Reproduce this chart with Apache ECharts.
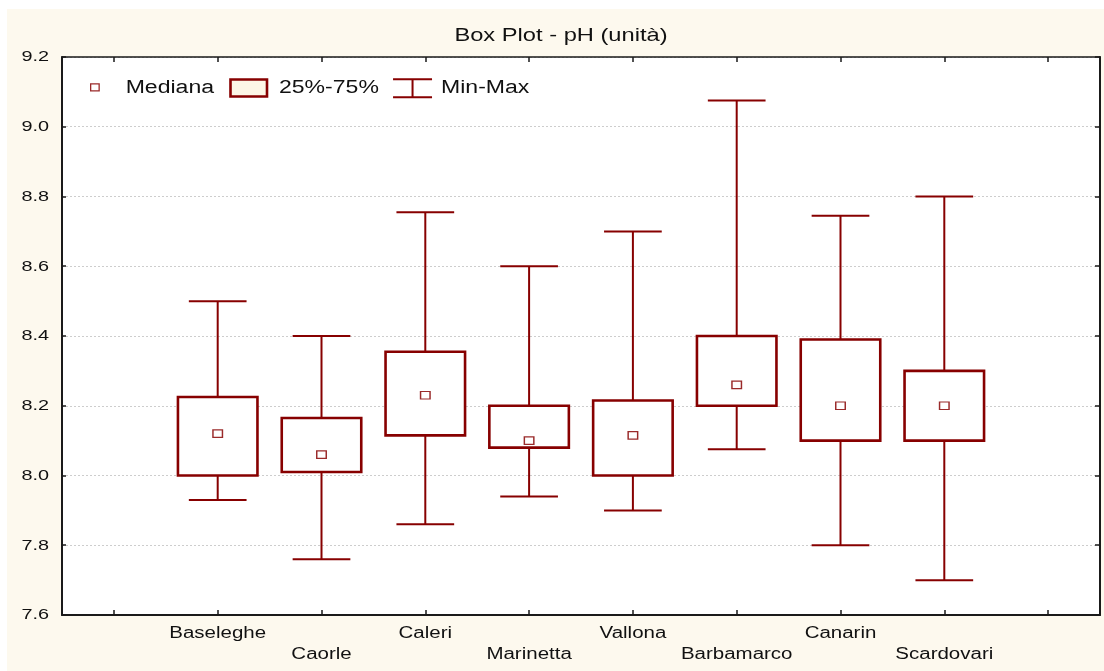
<!DOCTYPE html>
<html>
<head>
<meta charset="utf-8">
<title>Box Plot - pH (unità)</title>
<script src="https://cdn.jsdelivr.net/npm/echarts@6/dist/echarts.min.js"></script>
<style>
  html, body { margin: 0; padding: 0; background: #ffffff; }
  #page { position: relative; width: 1104px; height: 671px; overflow: hidden; background: #ffffff; }
  #panel { position: absolute; left: 7px; top: 9px; width: 1097px; height: 662px; background: #fdf9ee; }
  #chart { position: absolute; left: 0; top: 0; width: 1104px; height: 671px; }
</style>
</head>
<body>
<div id="page">
  <div id="panel"></div>
  <div id="chart"></div>
</div>
<script>
// Sampling stations and pH statistics (units)
const stations = ['Baseleghe', 'Caorle', 'Caleri', 'Marinetta', 'Vallona', 'Barbamarco', 'Canarin', 'Scardovari'];
const phMin    = [7.93,  7.76,  7.86,  7.94, 7.90,  8.075, 7.80,  7.70];
const phQ1     = [8.00,  8.01,  8.115, 8.08, 8.00,  8.20,  8.10,  8.10];
const phMedian = [8.12,  8.06,  8.23,  8.10, 8.115, 8.26,  8.20,  8.20];
const phQ3     = [8.225, 8.165, 8.355, 8.20, 8.215, 8.40,  8.39,  8.30];
const phMax    = [8.50,  8.40,  8.755, 8.60, 8.70,  9.075, 8.745, 8.80];

// Value axis range and tick step
const yMin = 7.6;
const yMax = 9.2;
const yStep = 0.2;

// Empty slots on both ends of the category axis
const categories = [''].concat(stations, ['']);

const MAROON = '#870000';
const INK = '#1a1a1a';
const FONT = '"Liberation Sans", Arial, sans-serif';
const BOX_FRAC = 0.766;   // box width relative to the category band
const CAP_FRAC = 0.556;   // whisker cap width relative to the category band
const TEXT_STRETCH = 1.28;

const boxData = stations.map(function (s, i) {
  return [i + 1, phMin[i], phQ1[i], phMedian[i], phQ3[i], phMax[i]];
});
const medianData = stations.map(function (s, i) {
  return [i + 1, phMedian[i]];
});

function renderWhisker(params, api) {
  const x = api.value(0);
  const cap = api.size([1, 0])[0] * CAP_FRAC;
  const pMin = api.coord([x, api.value(1)]);
  const pQ1 = api.coord([x, api.value(2)]);
  const pQ3 = api.coord([x, api.value(4)]);
  const pMax = api.coord([x, api.value(5)]);
  const style = { stroke: MAROON, lineWidth: 2 };
  function seg(x1, y1, x2, y2) {
    return { type: 'line', shape: { x1: x1, y1: y1, x2: x2, y2: y2 }, style: style };
  }
  return {
    type: 'group',
    children: [
      seg(pMin[0], pMin[1], pQ1[0], pQ1[1]),
      seg(pQ3[0], pQ3[1], pMax[0], pMax[1]),
      seg(pMin[0] - cap / 2, pMin[1], pMin[0] + cap / 2, pMin[1]),
      seg(pMax[0] - cap / 2, pMax[1], pMax[0] + cap / 2, pMax[1])
    ]
  };
}

function renderBox(params, api) {
  const x = api.value(0);
  const w = api.size([1, 0])[0] * BOX_FRAC;
  const top = api.coord([x, api.value(4)]);
  const bottom = api.coord([x, api.value(2)]);
  return {
    type: 'rect',
    shape: { x: top[0] - w / 2, y: top[1], width: w, height: bottom[1] - top[1] },
    style: { fill: '#ffffff', stroke: MAROON, lineWidth: 2.6 }
  };
}

// Legend glyphs share a 44x20 frame (corner moves keep the frame size)
const FRAME = 'M0,0 M44,20 ';
const iconMedian = 'path://' + FRAME + 'M14,5.5 L22.5,5.5 L22.5,12.5 L14,12.5 Z';
const iconBox = 'path://' + FRAME + 'M0.5,1.2 L37,1.2 L37,18.2 L0.5,18.2 Z';
const iconWhisker = 'path://' + FRAME + 'M1,1 L40,1 M20.5,1 L20.5,19 M1,19 L40,19';

const chart = echarts.init(document.getElementById('chart'), null, { renderer: 'canvas' });

const option = {
  animation: false,
  backgroundColor: 'transparent',
  title: {
    text: 'Box Plot - pH (unità)',
    left: 561,
    top: 26,
    padding: 0,
    textAlign: 'center',
    textStyle: { fontFamily: FONT, fontSize: 18.5, fontWeight: 'normal', color: '#111111' }
  },
  legend: {
    left: 76,
    top: 77,
    padding: 0,
    itemWidth: 44,
    itemHeight: 20,
    itemGap: 34,
    selectedMode: false,
    textStyle: { fontFamily: FONT, fontSize: 18, color: '#111111' },
    data: [
      { name: 'Mediana', icon: iconMedian,
        itemStyle: { color: '#ffffff', borderColor: '#9a2a2a', borderWidth: 1.3 } },
      { name: '25%-75%', icon: iconBox,
        itemStyle: { color: '#fdf6e6', borderColor: MAROON, borderWidth: 2.6 } },
      { name: 'Min-Max', icon: iconWhisker,
        itemStyle: { color: 'transparent', borderColor: MAROON, borderWidth: 2 } }
    ]
  },
  grid: {
    left: 62, top: 57, right: 4, bottom: 56,
    show: true, backgroundColor: '#ffffff', borderWidth: 0,
    containLabel: false, outerBoundsMode: 'none'
  },
  xAxis: [
    {
      type: 'category',
      data: categories,
      boundaryGap: true,
      position: 'bottom',
      axisLine: { show: true, lineStyle: { color: INK, width: 2 } },
      axisTick: { show: true, inside: true, length: 5, alignWithLabel: true, interval: 0,
                  lineStyle: { color: INK, width: 1.5 } },
      axisLabel: {
        interval: 0, margin: 8.5, color: '#111111', fontFamily: FONT, fontSize: 16, lineHeight: 21,
        formatter: function (value, index) { return index % 2 === 0 ? '\n' + value : value; }
      },
      splitLine: { show: false }
    },
    {
      type: 'category',
      data: categories,
      boundaryGap: true,
      position: 'top',
      axisLine: { show: true, lineStyle: { color: INK, width: 1.5 } },
      axisTick: { show: true, inside: true, length: 5, alignWithLabel: true, interval: 0,
                  lineStyle: { color: INK, width: 1.5 } },
      axisLabel: { show: false },
      splitLine: { show: false }
    }
  ],
  yAxis: [
    {
      type: 'value',
      min: yMin, max: yMax, interval: yStep,
      position: 'left',
      axisLine: { show: true, lineStyle: { color: INK, width: 2 } },
      axisTick: { show: true, inside: true, length: 4, lineStyle: { color: INK, width: 1.5 } },
      axisLabel: {
        margin: 13, color: '#111111', fontFamily: FONT, fontSize: 15.5,
        formatter: function (v) { return v.toFixed(1); }
      },
      splitLine: { show: true, lineStyle: { color: '#cdcdcd', width: 1, type: [2, 2] } }
    },
    {
      type: 'value',
      min: yMin, max: yMax, interval: yStep,
      position: 'right',
      axisLine: { show: true, lineStyle: { color: INK, width: 2 } },
      axisTick: { show: true, inside: true, length: 5, lineStyle: { color: INK, width: 1.5 } },
      axisLabel: { show: false },
      splitLine: { show: false }
    }
  ],
  series: [
    {
      name: 'Min-Max',
      type: 'custom',
      xAxisIndex: 0, yAxisIndex: 0,
      renderItem: renderWhisker,
      encode: { x: 0, y: [1, 2, 3, 4, 5] },
      itemStyle: { color: MAROON },
      data: boxData,
      z: 2
    },
    {
      name: '25%-75%',
      type: 'custom',
      xAxisIndex: 0, yAxisIndex: 0,
      renderItem: renderBox,
      encode: { x: 0, y: [1, 2, 3, 4, 5] },
      itemStyle: { color: MAROON },
      data: boxData,
      z: 3
    },
    {
      name: 'Mediana',
      type: 'scatter',
      xAxisIndex: 0, yAxisIndex: 0,
      symbol: 'rect',
      symbolSize: [9.5, 7.5],
      itemStyle: { color: '#ffffff', borderColor: '#9a2a2a', borderWidth: 1.3, opacity: 1 },
      data: medianData,
      z: 4
    }
  ]
};

chart.setOption(option);

// Widen every text label horizontally around its own anchor point
function stretchText(ch, sx) {
  const zr = ch.getZr();
  function visit(el) {
    if (el && el.type === 'text' && el.style && el.style.text) {
      el.originX = el.style.x || 0;
      el.originY = el.style.y || 0;
      el.scaleX = sx;
      el.markRedraw();
    }
  }
  zr.storage.getRoots().forEach(function (root) {
    visit(root);
    if (root.traverse) root.traverse(visit);
  });
  zr.refreshImmediately();
}
stretchText(chart, TEXT_STRETCH);
</script>
</body>
</html>
